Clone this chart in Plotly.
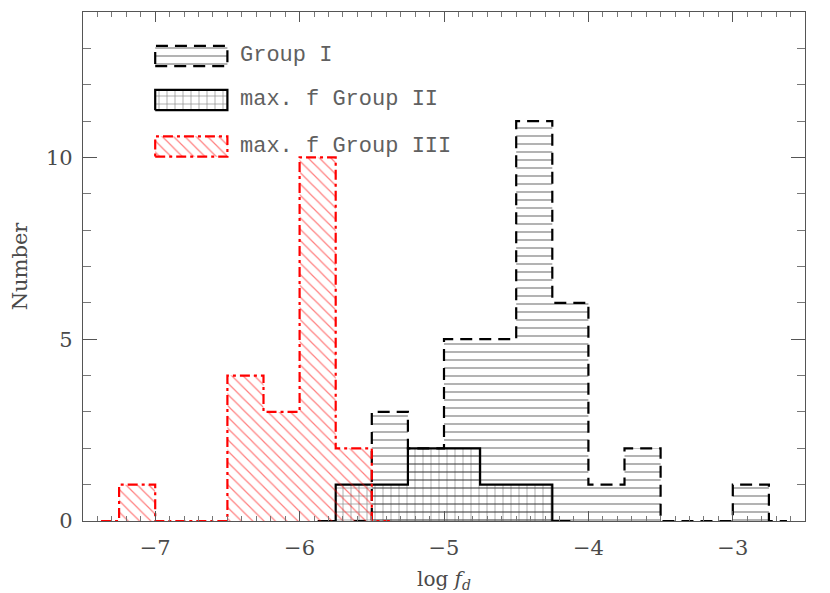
"""
Histogram of log f_d for three groups, IDL-style hatched step outlines.
"""

import plotly.graph_objects as go

BIN = 0.25

# left bin edges and counts per group
group1_left = [-5.5, -5.25, -5.0, -4.75, -4.5, -4.25, -4.0, -3.75, -3.5, -3.25, -3.0]
group1_counts = [3, 2, 5, 5, 11, 6, 1, 2, 0, 0, 1]

group2_left = [-5.75, -5.5, -5.25, -5.0, -4.75, -4.5]
group2_counts = [1, 1, 2, 2, 1, 1]

group3_left = [-7.25, -7.0, -6.75, -6.5, -6.25, -6.0, -5.75]
group3_counts = [1, 0, 0, 4, 3, 10, 2]

x_ticks = [-7, -6, -5, -4, -3]
x_tick_text = ["\u22127", "\u22126", "\u22125", "\u22124", "\u22123"]
y_ticks = [0, 5, 10]

labels = ["Group I", "max. f Group II", "max. f Group III"]

FONT = "DejaVu Serif"
LEGEND_FONT = "Liberation Mono"
TEXT_COLOR = "#4a4a4a"


def step_xy(left, counts):
    """Step outline with a half-bin zero run on both sides (PLOTHIST style)."""
    xs = [left[0] - BIN / 2] + list(left) + [left[-1] + BIN, left[-1] + BIN * 1.5]
    ys = [0] + list(counts) + [0, 0]
    return xs, ys


styles = [
    dict(color="black", dash="12px,7px", shape="-", size=8, solidity=0.15),
    dict(color="black", dash="solid", shape="+", size=8, solidity=0.15),
    dict(color="red", dash="10px,4px,3px,4px", shape="\\", size=8, solidity=0.15),
]

fig = go.Figure()

for (left, counts), st in zip(
    [(group1_left, group1_counts), (group2_left, group2_counts), (group3_left, group3_counts)],
    styles,
):
    xs, ys = step_xy(left, counts)
    fig.add_trace(go.Scatter(
        x=xs, y=ys,
        mode="lines",
        line=dict(shape="hv", color=st["color"], width=2.2, dash=st["dash"]),
        fill="tozeroy",
        fillcolor="rgba(0,0,0,0)",
        fillpattern=dict(shape=st["shape"], fgcolor=st["color"], size=st["size"],
                         solidity=st["solidity"], bgcolor="rgba(0,0,0,0)"),
        showlegend=False,
        hoverinfo="skip",
    ))

# hand-drawn legend swatches (data coords, upper left)
legend_y = [12.79, 11.58, 10.3]
for lab, st, yc in zip(labels, styles, legend_y):
    x0, x1 = -7.0, -6.5
    y0, y1 = yc - 0.28, yc + 0.28
    fig.add_trace(go.Scatter(
        x=[x0, x1, x1, x0, x0], y=[y0, y0, y1, y1, y0],
        mode="lines",
        line=dict(color=st["color"], width=2.2, dash=st["dash"]),
        fill="toself",
        fillcolor="rgba(0,0,0,0)",
        fillpattern=dict(shape=st["shape"], fgcolor=st["color"], size=st["size"],
                         solidity=st["solidity"], bgcolor="rgba(0,0,0,0)"),
        showlegend=False,
        hoverinfo="skip",
    ))
    fig.add_annotation(
        x=-6.43, y=yc, text=lab, showarrow=False, xanchor="left", yanchor="middle",
        font=dict(family=LEGEND_FONT, size=22, color="#606060"),
    )

axis_common = dict(
    showgrid=False, zeroline=False, automargin=False,
    showline=True, linecolor="#555555", linewidth=1.2, mirror="allticks",
    ticks="inside", tickcolor="#555555", tickwidth=1.2,
    tickfont=dict(family=FONT, size=21, color=TEXT_COLOR),
)

fig.update_xaxes(
    range=[-7.5, -2.5], tickvals=x_ticks, ticktext=x_tick_text, ticklen=10,
    ticklabelstandoff=8,
    minor=dict(dtick=0.1, ticks="inside", ticklen=5, tickcolor="#777777"),
    title=dict(text="log <i>f<sub>d</sub></i>", font=dict(family=FONT, size=20, color=TEXT_COLOR),
               standoff=14),
    **axis_common,
)
fig.update_yaxes(
    range=[0, 14], tickvals=y_ticks, ticklen=14,
    ticklabelstandoff=5,
    minor=dict(dtick=1, ticks="inside", ticklen=8, tickcolor="#777777"),
    title=dict(text="Number", font=dict(family=FONT, size=21, color=TEXT_COLOR), standoff=17),
    **axis_common,
)

# the page body adds an 8 px margin, so the figure is shrunk by that much
fig.update_layout(
    width=822, height=585,
    margin=dict(l=75, r=25, t=4, b=72),
    plot_bgcolor="white", paper_bgcolor="white",
    showlegend=False,
)

fig.write_html("out.html")
